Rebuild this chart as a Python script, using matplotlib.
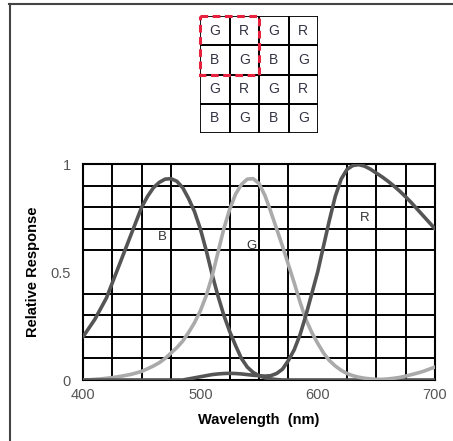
import matplotlib
matplotlib.use("Agg")
from matplotlib import pyplot as plt
from matplotlib.lines import Line2D
from matplotlib.patches import Rectangle
import numpy as np

plt.rcParams['font.family'] = ['Liberation Sans', 'DejaVu Sans']

wavelength = np.arange(400, 701, 5)

blue = [0.20, 0.24, 0.28, 0.33, 0.38, 0.45, 0.52, 0.59, 0.66, 0.73,
        0.80, 0.85, 0.89, 0.915, 0.93, 0.932, 0.92, 0.89, 0.84, 0.78,
        0.70, 0.60, 0.49, 0.39, 0.30, 0.225, 0.16, 0.10, 0.06, 0.035,
        0.02, 0.01, 0.005, 0.002, 0.0, 0.0, 0.0, 0.0, 0.0, 0.0,
        0.0, 0.0, 0.0, 0.0, 0.0, 0.0, 0.0, 0.0, 0.0, 0.0,
        0.0, 0.0, 0.0, 0.0, 0.0, 0.0, 0.0, 0.0, 0.0, 0.0,
        0.0]

green = [0.0, 0.001, 0.003, 0.005, 0.008, 0.011, 0.015, 0.02, 0.025, 0.032,
         0.04, 0.052, 0.065, 0.08, 0.10, 0.125, 0.15, 0.18, 0.22, 0.265,
         0.32, 0.39, 0.48, 0.59, 0.70, 0.79, 0.86, 0.905, 0.93, 0.932,
         0.91, 0.855, 0.78, 0.70, 0.62, 0.535, 0.45, 0.36, 0.28, 0.22,
         0.17, 0.125, 0.09, 0.065, 0.045, 0.03, 0.02, 0.013, 0.008, 0.005,
         0.003, 0.003, 0.005, 0.008, 0.012, 0.018, 0.025, 0.032, 0.04, 0.05,
         0.06]

red = [0.0, 0.0, 0.0, 0.0, 0.0, 0.0, 0.0, 0.0, 0.0, 0.0,
       0.0, 0.0, 0.0, 0.0, 0.0, 0.0, 0.0, 0.0, 0.005, 0.01,
       0.015, 0.02, 0.025, 0.028, 0.03, 0.031, 0.03, 0.028, 0.025, 0.022,
       0.02, 0.018, 0.02, 0.03, 0.05, 0.09, 0.14, 0.21, 0.30, 0.40,
       0.50, 0.62, 0.74, 0.85, 0.93, 0.975, 0.993, 0.997, 0.99, 0.976,
       0.958, 0.94, 0.92, 0.898, 0.874, 0.848, 0.82, 0.79, 0.76, 0.73,
       0.70]

curve_labels = [("B", 468, 0.66), ("G", 544, 0.62), ("R", 640, 0.75)]

bayer = [["G", "R", "G", "R"],
         ["B", "G", "B", "G"],
         ["G", "R", "G", "R"],
         ["B", "G", "B", "G"]]

W, H = 453, 441
fig = plt.figure(figsize=(W / 100, H / 100), dpi=100)

# page frame (top and left edges only)
fig.add_artist(Line2D([9 / W, 1], [1 - 4 / H, 1 - 4 / H], color="#444444", lw=1.5))
fig.add_artist(Line2D([10 / W, 10 / W], [0, 1 - 4 / H], color="#444444", lw=1.5))

# response chart
ax = fig.add_axes([83 / W, 61 / H, 352 / W, 216 / H])
ax.set_xlim(400, 700)
ax.set_ylim(0, 1)
ax.set_xticks(np.arange(400, 701, 25), minor=True)
ax.set_yticks(np.arange(0, 1.01, 0.1), minor=True)
ax.grid(True, which="minor", color="black", lw=1.4)
ax.set_xticks([400, 500, 600, 700])
ax.set_yticks([0, 0.5, 1])
ax.set_yticklabels(["0", "0.5", "1"])
ax.tick_params(which="both", length=0, colors="#555555", labelsize=10.5)
ax.tick_params(axis="x", pad=6)
ax.tick_params(axis="y", pad=9)
for s in ax.spines.values():
    s.set_color("black")
    s.set_linewidth(1.5)

style = dict(lw=2.6, solid_joinstyle="round", solid_capstyle="round", zorder=3)
ax.plot(wavelength, blue, color="#555555", **style)
ax.plot(wavelength, green, color="#aaaaaa", **style)
ax.plot(wavelength, red, color="#555555", **style)
for txt, x, y in curve_labels:
    ax.text(x, y, txt, ha="center", va="center", fontsize=9.5, color="#333333", zorder=4)

ax.set_xlabel("Wavelength  (nm)", fontsize=10.5, fontweight="bold", labelpad=8)
ax.set_ylabel("Relative Response", fontsize=10.5, fontweight="bold", labelpad=7)

# Bayer pattern
bx = fig.add_axes([200 / W, 1 - 133 / H, 118 / W, 117 / H])
bx.set_xlim(0, 4)
bx.set_ylim(4, 0)
bx.axis("off")
for r, row in enumerate(bayer):
    for c, letter in enumerate(row):
        bx.add_patch(Rectangle((c, r), 1, 1, fill=False, ec="black", lw=1.3))
        bx.text(c + 0.5, r + 0.5, letter, ha="center", va="center",
                fontsize=10, color="#333344")
bx.add_patch(Rectangle((0, 0), 2, 2, fill=False, ec="#e8213f", lw=2.2,
                       ls=(0, (2.5, 1.5)), zorder=5, clip_on=False))

fig.savefig("out.png", dpi=100)
